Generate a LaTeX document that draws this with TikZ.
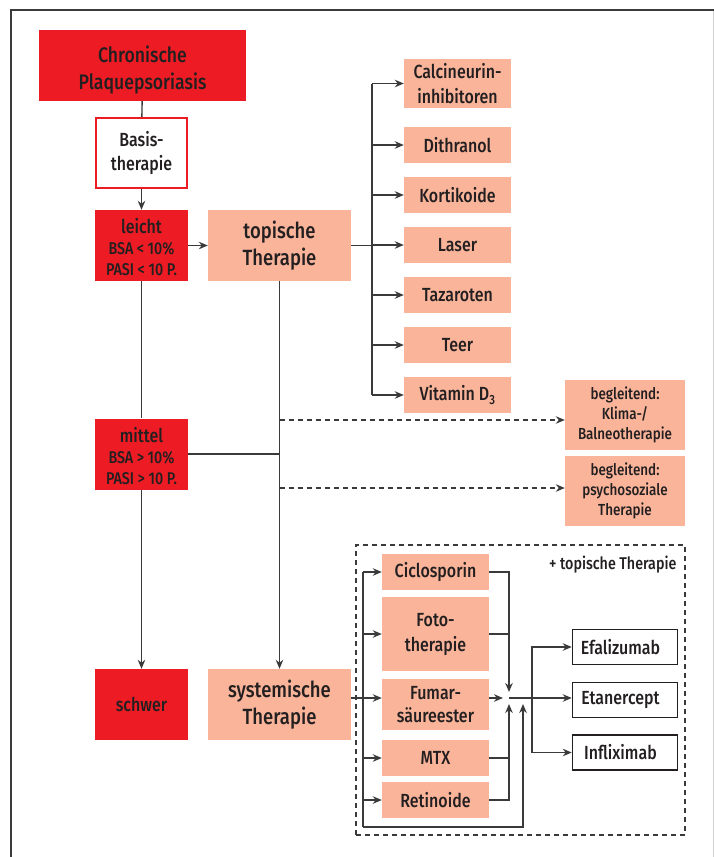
\documentclass[tikz,border=0pt]{standalone}
\usepackage{fontspec}
\setmainfont{Fira Sans}[FakeStretch=0.84,UprightFont=* Medium]
\usetikzlibrary{arrows.meta}
\definecolor{psored}{HTML}{ED1C24}
\definecolor{psolachs}{HTML}{F9B49A}
\definecolor{psoink}{HTML}{231F20}
\definecolor{psoline}{HTML}{3A3A3A}

\begin{document}
\begin{tikzpicture}[x=1pt,y=-1pt,>={Stealth[length=9pt,width=7.5pt]},redbox/.style={fill=psored,text=psoink,align=center,inner sep=0pt,minimum width=93pt,minimum height=71pt},lachsbox/.style={fill=psolachs,text=psoink,align=center,inner sep=0pt,minimum width=107pt,minimum height=36pt,font=\fontsize{19}{25}\selectfont},whitebox/.style={draw=psoink,line width=1.5pt,fill=white,text=psoink,inner sep=0pt,minimum width=105pt,minimum height=35pt,font=\fontsize{19}{25}\selectfont},link/.style={line width=1.4pt,draw=psoline},arrow/.style={->,line width=1.4pt,draw=psoline},dasharrow/.style={->,line width=1.2pt,draw=psoline,dash pattern=on 5pt off 4pt}]
\useasboundingbox (0,0) rectangle (714,857);
% Rahmen
\draw[line width=2.5pt,draw=psoline] (11,857) -- (11,10) -- (714,10); \draw[line width=1pt,draw=black!18] (713,11) -- (713,857);
% linke Spalte
\node[redbox,minimum width=207pt,font=\fontsize{21}{27}\selectfont] (chron) at (142.5,65.5) {\rule{0pt}{25pt}Chronische\\Plaquepsoriasis};
\node[draw=psored,line width=2pt,fill=white,text=psoink,align=center,inner sep=0pt,minimum width=91pt,minimum height=70pt,font=\fontsize{19}{24}\selectfont] (basis) at (141.5,153) {Basis-\\therapie};
\node[redbox,font=\fontsize{17}{21}\selectfont] (leicht) at (141.5,245.5) {\rule{0pt}{19pt}{\fontsize{19}{21}\selectfont leicht}\\BSA < 10\%\\PASI < 10 P.};
\node[redbox,font=\fontsize{17}{21}\selectfont] (mittel) at (141.5,454) {\rule{0pt}{19pt}{\fontsize{19}{21}\selectfont mittel}\\BSA > 10\%\\PASI > 10 P.};
\node[redbox,font=\fontsize{19}{24}\selectfont] (schwer) at (141.5,704.5) {schwer};
\draw[link] (chron) -- (basis); \draw[arrow] (basis) -- (leicht); \draw[link] (leicht) -- (mittel); \draw[arrow] (mittel) -- (schwer);
% topische Therapie
\node[lachsbox,minimum width=143pt,minimum height=71pt,font=\fontsize{22}{27}\selectfont] (topisch) at (279.5,245.5) {topische\\Therapie};
\node[lachsbox,minimum width=143pt,minimum height=71pt,font=\fontsize{22}{27}\selectfont] (syst) at (279.5,704.5) {systemische\\Therapie};
\draw[arrow] (leicht) -- (topisch); \draw[arrow] (topisch) -- (syst); \draw[link] (mittel) -- (mittel -| topisch);
\node[lachsbox,minimum height=49pt] (calc) at (457.5,83.5) {Calcineurin-\\inhibitoren};
\node[lachsbox] (dith) at (457.5,145) {Dithranol}; \node[lachsbox] (kort) at (457.5,195) {Kortikoide}; \node[lachsbox] (laser) at (457.5,245) {Laser};
\node[lachsbox] (taza) at (457.5,295) {Tazaroten}; \node[lachsbox] (teer) at (457.5,345) {Teer}; \node[lachsbox] (vitd) at (457.5,395) {Vitamin D\textsubscript{3}};
\coordinate (tverz) at (372,245.5);
\draw[link] (topisch) -- (tverz); \draw[link] (tverz |- calc) -- (tverz |- vitd);
\draw[arrow] (tverz |- calc) -- (calc); \draw[arrow] (tverz |- dith) -- (dith); \draw[arrow] (tverz |- kort) -- (kort); \draw[arrow] (tverz |- laser) -- (laser);
\draw[arrow] (tverz |- taza) -- (taza); \draw[arrow] (tverz |- teer) -- (teer); \draw[arrow] (tverz |- vitd) -- (vitd);
% begleitend
\node[lachsbox,minimum width=120pt,minimum height=70pt,font=\fontsize{16}{20}\selectfont] (begl1) at (625,415) {begleitend:\\Klima-/\\Balneotherapie};
\node[lachsbox,minimum width=120pt,minimum height=70pt,font=\fontsize{16}{20}\selectfont] (begl2) at (625,491) {begleitend:\\psychosoziale\\Therapie};
\coordinate (d1) at (279.5,420); \coordinate (d2) at (279.5,488);
\draw[dasharrow] (d1) -- (d1 -| begl1.west); \draw[dasharrow] (d2) -- (d2 -| begl2.west);
% systemische Therapie
\node[draw=psoline,line width=1.2pt,dash pattern=on 5pt off 4pt,inner sep=0pt,minimum width=329pt,minimum height=290pt] (rahmen) at (520.5,690) {};
\node[anchor=north east,inner sep=0pt,text=psoink,font=\fontsize{17}{18}\selectfont] (plus) at ([xshift=-9pt,yshift=-11pt]rahmen.north east) {+ topische Therapie};
\node[lachsbox] (cyclo) at (435.5,572) {Ciclosporin}; \node[lachsbox,minimum height=74pt] (foto) at (435.5,634) {Foto-\\therapie};
\node[lachsbox,minimum height=51pt,font=\fontsize{19}{23}\selectfont] (fumar) at (435.5,704.5) {Fumar-\\säureester};
\node[lachsbox] (mtx) at (435.5,758) {MTX}; \node[lachsbox] (retin) at (435.5,800) {Retinoide};
\node[whitebox] (efal) at (625,647) {Efalizumab\hspace*{9pt}}; \node[whitebox] (etan) at (625,700) {Etanercept\hspace*{9pt}}; \node[whitebox] (infl) at (625,752.5) {Infliximab\hspace*{9pt}};
\coordinate (j) at (509,698); \coordinate (jo) at (509,692); \coordinate (ju) at (509,704); \coordinate (jl) at (503,698); \coordinate (rueck) at (523,704);
\coordinate (stop) at (363,572); \coordinate (sbot) at (363,827); \coordinate (ast) at (532,698);
\draw[arrow] (syst.east |- j) -- (fumar.west |- j); \draw[link] (stop) -- (sbot); \draw[arrow] (sbot) -| (rueck);
\draw[arrow] (stop) -- (cyclo); \draw[arrow] (stop |- foto) -- (foto); \draw[arrow] (stop |- mtx) -- (mtx); \draw[arrow] (stop |- retin) -- (retin);
\draw[arrow] (cyclo.east) -| (jo); \draw[link] (foto.east) -- (foto.east -| jo); \draw[arrow] (retin.east) -| (ju); \draw[link] (mtx.east) -- (mtx.east -| ju);
\draw[arrow] (fumar.east |- j) -- (jl);
\draw[arrow] (j) -- (etan.west |- j); \draw[arrow] (ast) |- (efal); \draw[arrow] (ast) |- (infl);
\end{tikzpicture}
\end{document}
